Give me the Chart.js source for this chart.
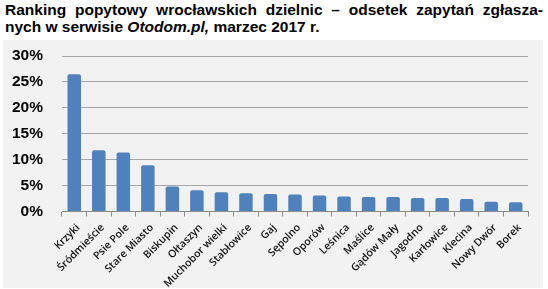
<!DOCTYPE html>
<html>
<head>
<meta charset="utf-8">
<script src="https://cdn.jsdelivr.net/npm/chart.js@4/dist/chart.umd.min.js"></script>
<style>
  body { margin: 0; background: #fff; width: 548px; height: 289px; overflow: hidden; position: relative; }
  #title { position: absolute; left: 5px; top: 1px; width: 538px; font-family: "Liberation Sans", Arial, sans-serif; font-weight: bold; font-size: 15.5px; line-height: 17px; color: #000; }
  #title .l1 { text-align: justify; text-align-last: justify; white-space: nowrap; }
  #box { position: absolute; left: 3px; top: 40px; width: 540px; height: 248px; background: #f2f2f2; }
</style>
</head>
<body>
<div id="title">
  <div class="l1">Ranking popytowy wrocławskich dzielnic – odsetek zapytań zgłasza-</div>
  <div>nych w serwisie <i>Otodom.pl,</i> marzec 2017 r.</div>
</div>
<div id="box"><canvas id="barChart" width="540" height="248"></canvas></div>
<script>
var districts = ["Krzyki", "Śródmieście", "Psie Pole", "Stare Miasto", "Biskupin", "Ołtaszyn",
  "Muchobor wielki", "Stabłowice", "Gaj", "Sępolno", "Oporów", "Leśnica", "Maślice",
  "Gądów Mały", "Jagodno", "Karłowice", "Klecina", "Nowy Dwór", "Borek"];
var shares = [26.5, 11.8, 11.4, 8.9, 4.8, 4.1, 3.7, 3.5, 3.4, 3.3, 3.1, 2.9, 2.8, 2.8, 2.6, 2.6, 2.4, 1.9, 1.8];
var yTicks = [0, 5, 10, 15, 20, 25, 30];

var ctx = document.getElementById("barChart");
var myBarChart = new Chart(ctx, {
  type: 'bar',
  data: {
    labels: districts,
    datasets: [{
      label: "odsetek zapytań",
      data: shares,
      backgroundColor: "#4f81bd",
      borderRadius: { topLeft: 2, topRight: 2 },
      borderSkipped: 'start',
      barPercentage: 0.55,
      categoryPercentage: 1
    }]
  },
  options: {
    responsive: false,
    animation: false,
    layout: { padding: { top: 16, right: 15, left: 0, bottom: 0 } },
    plugins: { legend: { display: false }, tooltip: { enabled: false } },
    scales: {
      x: {
        afterFit: function(scale) { scale.height = 76.5; scale.paddingLeft = 0; scale.paddingRight = 0; },
        grid: { offset: true, drawOnChartArea: false, drawTicks: true, tickLength: 5, color: '#8c8c8c' },
        border: { color: '#8c8c8c' },
        ticks: {
          autoSkip: false, minRotation: 45, maxRotation: 45, padding: 5, labelOffset: 4,
          color: '#111', font: { family: 'Open Sans', size: 10.5, weight: '600' }
        }
      },
      y: {
        min: yTicks[0], max: yTicks[yTicks.length - 1],
        afterFit: function(scale) { scale.width = 59; scale.paddingTop = 0; scale.paddingBottom = 0; },
        afterBuildTicks: function(scale) { scale.ticks = yTicks.map(function(v) { return { value: v }; }); },
        border: { display: false },
        grid: {
          drawTicks: false,
          color: function(c) { return c.tick && c.tick.value === 0 ? 'rgba(0,0,0,0)' : '#a6a6a6'; },
          borderDash: [6, 2, 1, 2]
        },
        ticks: {
          padding: 19, color: '#000',
          font: { family: 'Liberation Sans', weight: 'bold', size: 15.5 },
          callback: function(v) { return v + '%'; }
        }
      }
    }
  }
});
</script>
</body>
</html>
